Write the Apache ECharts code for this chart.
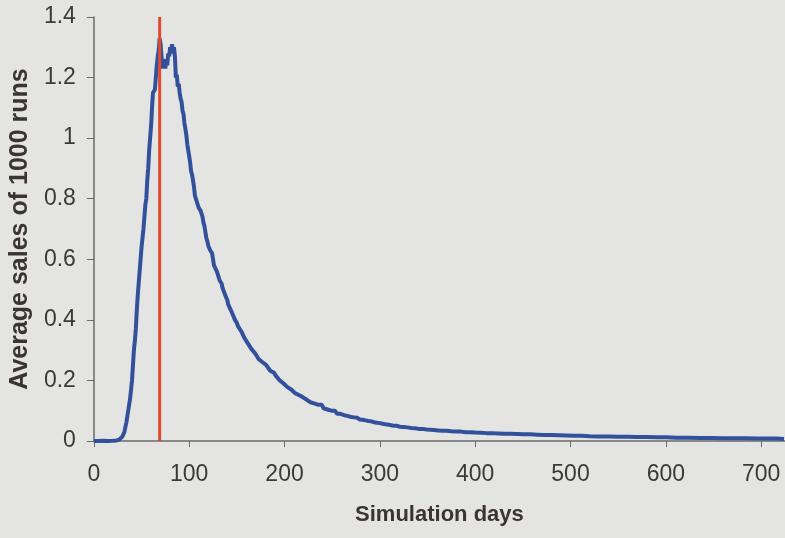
<!DOCTYPE html>
<html>
<head>
<meta charset="utf-8">
<script src="https://cdn.jsdelivr.net/npm/echarts@6/dist/echarts.min.js"></script>
<style>
html,body{margin:0;padding:0;background:#e4e4e2;}
#chart{width:785px;height:538px;}
</style>
</head>
<body>
<div id="chart"></div>
<script>
const days = [0,5,10,15,20,24,27,30,32,34,36,38,39,40,41,42,43,44,45,46,47,48,49,50,51,52,53,54,55,56,57,58,59,60,61,62,63,64,65,66,67,68,69,70,71,72,73,74,75,76,77,78,79,80,81,82,83,84,85,86,87,88,89,90,91,92,93,94,95,96,97,98,99,100,101,102,103,104,105,106,107,108,109,110,112,114,115,116,118,119,120,122,124,125,126,128,129,130,132,134,135,136,138,140,141,142,144,145,146,148,150,151,153,155,157,158,160,162,164,165,167,169,171,173,175,177,179,181,183,185,187,189,191,193,195,197,199,201,203,205,207,209,211,213,215,217,219,221,223,225,227,229,231,233,235,237,239,241,243,245,247,249,251,253,255,258,261,264,267,270,273,276,279,282,285,288,291,294,297,300,303,306,309,312,315,318,321,325,329,333,337,341,345,349,353,357,361,365,370,375,380,385,390,395,400,406,412,418,424,430,437,444,451,458,465,472,480,488,496,504,512,520,530,540,550,560,570,580,590,600,612,624,636,648,660,672,684,696,708,716,724];
const sales = [0,0,0.001,0,0.001,0.002,0.005,0.015,0.03,0.06,0.1,0.14,0.17,0.2,0.25,0.3,0.33,0.37,0.43,0.48,0.52,0.56,0.6,0.64,0.67,0.7,0.74,0.78,0.8,0.86,0.9,0.96,1.0,1.04,1.1,1.15,1.15,1.16,1.2,1.24,1.27,1.29,1.33,1.31,1.27,1.23,1.26,1.25,1.23,1.26,1.24,1.28,1.27,1.3,1.29,1.31,1.28,1.3,1.27,1.2,1.21,1.17,1.18,1.15,1.13,1.12,1.09,1.08,1.05,1.03,1.01,0.98,0.96,0.94,0.92,0.89,0.88,0.86,0.84,0.81,0.81,0.79,0.79,0.77,0.76,0.74,0.72,0.71,0.67,0.66,0.645,0.63,0.62,0.6,0.58,0.575,0.56,0.555,0.53,0.52,0.505,0.5,0.48,0.465,0.45,0.445,0.43,0.425,0.415,0.4,0.39,0.38,0.375,0.36,0.355,0.34,0.345,0.32,0.315,0.305,0.3,0.29,0.29,0.27,0.27,0.26,0.255,0.25,0.245,0.232,0.23,0.225,0.215,0.215,0.2,0.2,0.19,0.195,0.178,0.18,0.17,0.175,0.158,0.16,0.152,0.148,0.145,0.14,0.137,0.138,0.128,0.127,0.124,0.12,0.12,0.115,0.12,0.108,0.107,0.104,0.102,0.1,0.099,0.1,0.09,0.09,0.087,0.084,0.082,0.079,0.078,0.077,0.071,0.07,0.068,0.066,0.065,0.062,0.06,0.059,0.057,0.055,0.054,0.052,0.05,0.05,0.047,0.046,0.045,0.043,0.042,0.04,0.04,0.038,0.037,0.036,0.035,0.034,0.034,0.032,0.031,0.031,0.029,0.029,0.028,0.027,0.026,0.026,0.025,0.024,0.024,0.023,0.022,0.022,0.021,0.02,0.02,0.019,0.018,0.017,0.017,0.016,0.015,0.015,0.014,0.014,0.013,0.013,0.012,0.012,0.011,0.011,0.01,0.01,0.009,0.009,0.009,0.008,0.008,0.008,0.007];
const markerDay = [69, 69];
const markerY = [0, 1.4];
const xTicks = [0,100,200,300,400,500,600,700];

const chart = echarts.init(document.getElementById('chart'), null, {renderer:'canvas'});
const axisText = {color:'#3a3a3a', fontFamily:'"Liberation Sans", Arial, sans-serif', fontSize:23};
chart.setOption({
  backgroundColor:'#e4e4e2',
  animation:false,
  grid:{left:90, right:0, top:17, bottom:97},
  xAxis:{
    type:'value', min:0, max:725,
    name:'Simulation days', nameLocation:'middle', nameGap:63,
    nameTextStyle:{color:'#3b3434', fontFamily:'"Liberation Sans", Arial, sans-serif', fontSize:22, fontWeight:'bold'},
    axisLine:{show:true, lineStyle:{color:'#6a6a6a', width:1.5}},
    axisTick:{show:true, length:6, customValues:xTicks, lineStyle:{color:'#6a6a6a'}},
    axisLabel:Object.assign({margin:22, customValues:xTicks}, axisText),
    splitLine:{show:false}
  },
  yAxis:{
    type:'value', min:0, max:1.4, interval:0.2,
    name:'Average sales of 1000 runs', nameLocation:'middle', nameGap:57,
    nameTextStyle:{color:'#3b3434', fontFamily:'"Liberation Sans", Arial, sans-serif', fontSize:25, fontWeight:'bold'},
    axisLine:{show:true, lineStyle:{color:'#6a6a6a', width:1.5}},
    axisTick:{show:true, length:7, lineStyle:{color:'#6a6a6a'}},
    axisLabel:Object.assign({margin:18}, axisText),
    splitLine:{show:false}
  },
  series:[
    {type:'line', data:days.map((d,i)=>[d,sales[i]]), showSymbol:false, sampling:'none',
     lineStyle:{color:'#33509a', width:4}, z:2},
    {type:'line', data:markerDay.map((d,i)=>[d,markerY[i]]), showSymbol:false,
     lineStyle:{color:'#e0492c', width:3}, z:3}
  ]
});
</script>
</body>
</html>
